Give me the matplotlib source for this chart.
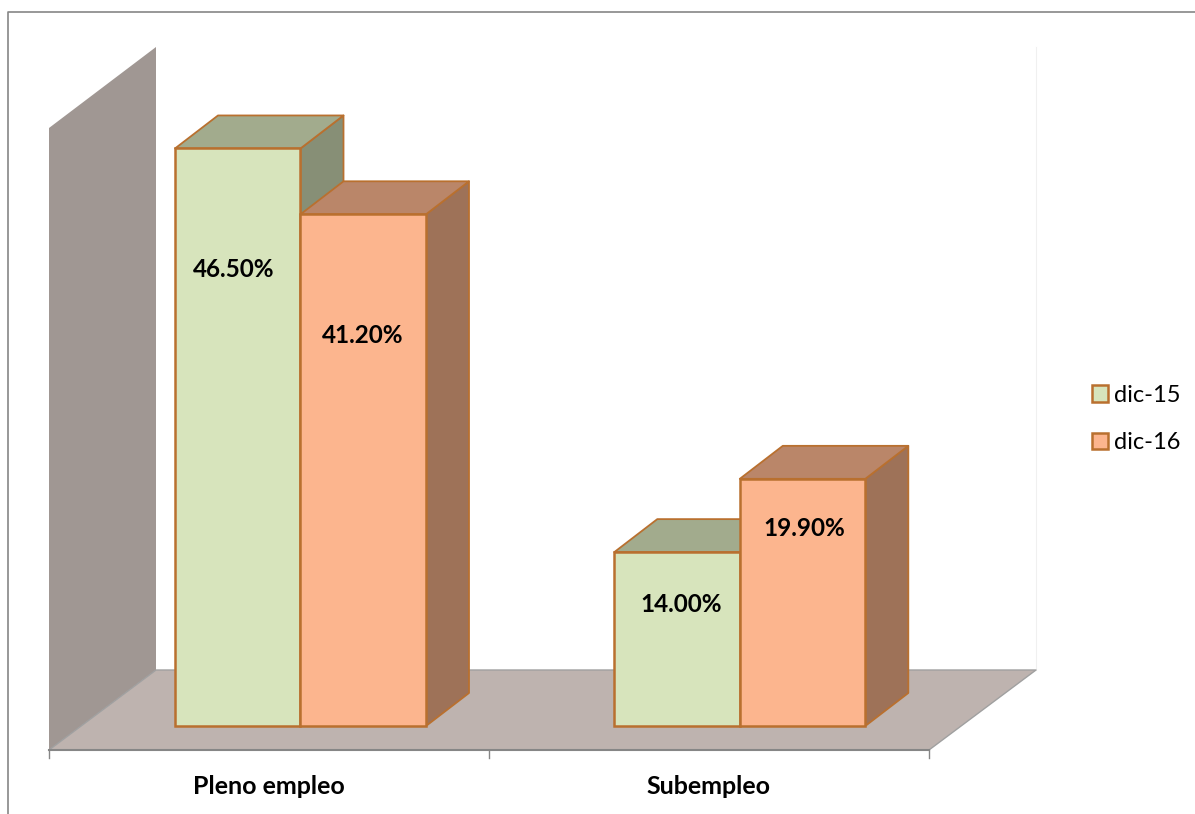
import matplotlib
matplotlib.use("Agg")
import matplotlib.pyplot as plt
from matplotlib.patches import Polygon, Patch

categories = ["Pleno empleo", "Subempleo"]
series_names = ["dic-15", "dic-16"]
dic15 = [46.5, 14.0]
dic16 = [41.2, 19.9]

plt.rcParams["font.family"] = ["Lato", "DejaVu Sans"]

W, H = 1195, 814
BASE = 726      # pixel row of value 0
SCALE = 12.42   # pixels per percentage point
DX, DY = 43, 33 # depth of the fake 3d
BAR_W = 125.5
EDGE = "#B9702F"

faces = ["#D7E4BC", "#FCB58E"]
tops = ["#A2AB8D", "#BA8669"]
sides = ["#878F76", "#9E7258"]
# where each label sits: pixels under the bar top, pixels from the bar's left
label_drop = [[121, 121], [52, 50]]
label_shift = [[59, 62], [67, 64.5]]


def yv(row):
    return (BASE - row) / SCALE


fig = plt.figure(figsize=(W / 100, H / 100), dpi=100)
ax = fig.add_axes([0, 0, 1, 1])
ax.set_xlim(0, W)
ax.set_ylim(yv(H), yv(0))
ax.axis("off")

# outer frame, cut by the right and bottom of the image
ax.plot([8.5, 8.5, W], [yv(H), yv(11.5), yv(11.5)], color="#868686", lw=1.2)

# walls and floor
ax.add_patch(Polygon([(49, yv(128)), (156, yv(47)), (156, yv(670)), (49, yv(750))],
                     fc="#A09793", ec="none", zorder=1))
ax.plot([1036, 1036], [yv(47), yv(670)], color="#F0F0F0", lw=0.8, zorder=1)
ax.add_patch(Polygon([(49, yv(750)), (156, yv(670)), (1036, yv(670)), (929, yv(750))],
                     fc="#BEB3AF", ec="none", zorder=1))
ax.plot([49, 156, 1036, 929], [yv(750), yv(670), yv(670), yv(750)], color="#A0A0A0", lw=1, zorder=1.5)
ax.plot([49, 929], [yv(750), yv(750)], color="#868686", lw=1.5, zorder=1.5)
ticks = [49, 489, 929]
for t in ticks:
    ax.plot([t, t], [yv(750), yv(758)], color="#868686", lw=1, zorder=1.5)

d = DY / SCALE
for i, name in enumerate(categories):
    left = 175 + 439.3 * i
    for j, vals in enumerate([dic15, dic16]):
        v = vals[i]
        x0 = left + j * BAR_W
        x1 = x0 + BAR_W
        ax.add_patch(Polygon([(x1, 0), (x1 + DX, d), (x1 + DX, v + d), (x1, v)],
                             fc=sides[j], ec=EDGE, lw=1.3, joinstyle="round", zorder=3))
        ax.add_patch(Polygon([(x0, v), (x0 + DX, v + d), (x1 + DX, v + d), (x1, v)],
                             fc=tops[j], ec=EDGE, lw=1.3, joinstyle="round", zorder=3))
        ax.add_patch(Polygon([(x0, 0), (x1, 0), (x1, v), (x0, v)],
                             fc=faces[j], ec=EDGE, lw=1.8, joinstyle="miter", zorder=3))
    for j, vals in enumerate([dic15, dic16]):
        v = vals[i]
        x0 = left + j * BAR_W
        ax.text(x0 + label_shift[i][j], v - label_drop[i][j] / SCALE, "%.2f%%" % v,
                ha="center", va="center",
                fontsize=17.5, fontweight="bold", color="black", zorder=5)
    ax.text(268.5 + 440 * i, yv(787), name, ha="center", va="center",
            fontsize=18, fontweight="bold", color="black")

handles = [Patch(fc=faces[k], ec=EDGE, lw=1.8) for k in range(2)]
ax.legend(handles, series_names, loc="center left", bbox_to_anchor=(1092 / W, 1 - 419 / H),
          frameon=False, fontsize=17, handlelength=0.68, handleheight=0.68,
          handletextpad=0.27, labelspacing=1.12, borderpad=0, borderaxespad=0)

fig.savefig("out.png", dpi=100)
